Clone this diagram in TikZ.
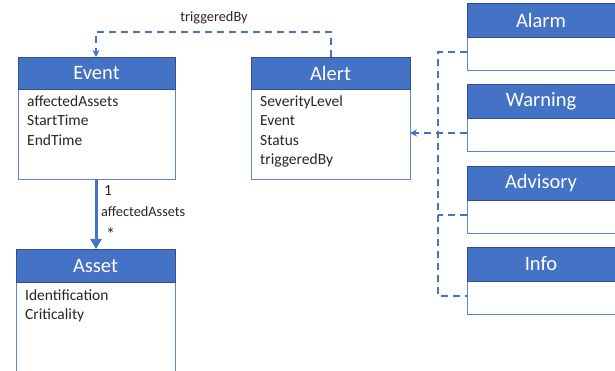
\documentclass[tikz,border=0pt]{standalone}
\usepackage{fontspec}
\setmainfont{Carlito}
\usetikzlibrary{arrows.meta}
\definecolor{hdr}{HTML}{4472C4}
\definecolor{hdrline}{HTML}{2F528F}
\definecolor{bodyline}{HTML}{5B87D0}
\definecolor{conn}{HTML}{4472C4}
\definecolor{ink}{HTML}{262626}
\tikzset{
  header/.style={draw=hdrline, fill=hdr, line width=0.8pt},
  bodybox/.style={draw=bodyline, fill=white, line width=0.9pt},
  title/.style={text=white, font=\fontsize{20.5}{22}\selectfont},
  attrs/.style={anchor=north west, align=left, inner sep=0pt, text=ink, font=\fontsize{15.5}{19.5}\selectfont},
  lbl/.style={inner sep=0pt, text=ink, font=\fontsize{14.3}{16}\selectfont},
  dashconn/.style={draw=conn, line width=1.6pt, dash pattern=on 7pt off 5pt},
}
\begin{document}
\begin{tikzpicture}[x=1pt,y=-1pt]
\useasboundingbox (0,0) rectangle (615,371);
% Event class
\draw[bodybox] (18,89) rectangle (175,179);
\draw[header] (18,57) rectangle (175,89);
\node[title] (eventT) at (96.5,73) {Event};
\node[attrs] (eventA) at (27,95.5) {affectedAssets\\StartTime\\EndTime};
\coordinate (eventTop) at (96,57);
\coordinate (eventBot) at (96,179);
% Alert class
\draw[bodybox] (251,89) rectangle (410,179);
\draw[header] (251,57) rectangle (410,89);
\node[title] (alertT) at (330.5,73) {Alert};
\node[attrs] (alertA) at (260,95.5) {SeverityLevel\\Event\\Status\\triggeredBy};
\coordinate (alertTop) at (331,57);
\coordinate (alertRight) at (410,133);
% Asset class
\draw[bodybox] (16,282) rectangle (175,378);
\draw[header] (16,249) rectangle (175,282);
\node[title] (assetT) at (95.5,265.5) {Asset};
\node[attrs] (assetA) at (25,289.5) {Identification\\Criticality};
\coordinate (assetTop) at (96,249);
% Alert subtypes
\foreach \nm/\lab/\yt/\ym in {alarm/Alarm/3/37, warning/Warning/84/118, advisory/Advisory/166/200, info/Info/247/281}{
  \draw[bodybox] (467,\ym) rectangle (622,\ym+33);
  \draw[header] (467,\yt) rectangle (622,\ym);
  \node[title] (\nm T) at (541,{(\yt+\ym)/2}) {\lab};
  \coordinate (\nm L) at (467,\ym+15);
}
% triggeredBy association
\draw[dashconn, -{Stealth[length=7pt,width=7pt]}] (alertTop) -- ++(0,-25) -| (eventTop);
\node[lbl] (trigLbl) at (214,18) {triggeredBy};
% affectedAssets association
\draw[draw=conn, line width=3pt, -{Stealth[length=10pt,width=11pt,inset=0pt]}] (eventBot) -- (assetTop);
\node[lbl, anchor=west] (one) at (104,191) {\fontsize{15.5}{17}\selectfont 1};
\node[lbl, anchor=west] (aaLbl) at (101,212) {affectedAssets};
\node[lbl, anchor=west] (many) at (106,234) {\fontsize{18}{18}\selectfont *};
% generalisation of subtypes
\coordinate (busTop) at (438,52);
\coordinate (busBot) at (438,296);
\draw[dashconn] (alarmL) -- (busTop) -- (busBot) -- (infoL);
\draw[dashconn] (advisoryL) -- (438,215);
\draw[dashconn, -{Stealth[length=7pt,width=7pt]}] (warningL) -- (alertRight);
\end{tikzpicture}
\end{document}
